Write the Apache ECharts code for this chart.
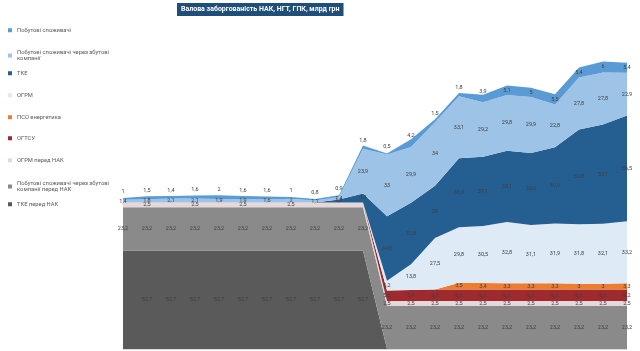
<!DOCTYPE html>
<html lang="uk">
<head>
<meta charset="UTF-8">
<title>Валова заборгованість</title>
<style>
  html, body { margin: 0; padding: 0; background: #fff; }
  #main { width: 640px; height: 351px; }
</style>
</head>
<body>
<div id="main"></div>
<script src="https://cdn.jsdelivr.net/npm/echarts@6/dist/echarts.min.js"></script>
<script>
// periods (no visible axis labels in the original)
var periods = ['1', '2', '3', '4', '5', '6', '7', '8', '9', '10', '11',
               '12', '13', '14', '15', '16', '17', '18', '19', '20', '21', '22'];

// stack from bottom to top, млрд грн
var tkeBeforeNak      = [52.7, 52.7, 52.7, 52.7, 52.7, 52.7, 52.7, 52.7, 52.7, 52.7, 52.7,
                         0, 0, 0, 0, 0, 0, 0, 0, 0, 0, 0];
var retailBeforeNak   = [23.2, 23.2, 23.2, 23.2, 23.2, 23.2, 23.2, 23.2, 23.2, 23.2, 23.2,
                         23.2, 23.2, 23.2, 23.2, 23.2, 23.2, 23.2, 23.2, 23.2, 23.2, 23.2];
var ogrmBeforeNak     = [2.5, 2.5, 2.5, 2.5, 2.5, 2.5, 2.5, 2.5, 2.5, 2.5, 2.5,
                         2.5, 2.5, 2.5, 2.5, 2.5, 2.5, 2.5, 2.5, 2.5, 2.5, 2.5];
var ogtsu             = [0, 0, 0, 0, 0, 0, 0, 0, 0, 0, 0,
                         5.6, 5.9, 6.2, 6.2, 6.2, 6.2, 6.2, 6.2, 6.2, 6.2, 6.2];
var psoEnergy         = [0, 0, 0, 0, 0, 0, 0, 0, 0, 0, 0,
                         0, 0, 0, 3.5, 3.4, 3.3, 3.3, 3.3, 3, 3, 3.3];
var ogrm              = [0, 0, 0, 0, 0, 0, 0, 0, 0, 0, 0,
                         5.2, 13.8, 27.5, 29.8, 30.5, 32.8, 31.1, 31.9, 31.8, 32.1, 33.2];
var tke               = [0, 0, 0, 0, 0, 0, 0, 0, 0, 1.6, 4.8,
                         34.6, 32.8, 28, 36.9, 37.1, 38.1, 38.6, 40.9, 50.8, 53.1, 56.5];
var retailSuppliers   = [1.4, 1.8, 2.1, 2.1, 1.9, 1.9, 1.6, 2, 1.1, 1.4, 23.9,
                         33, 29.9, 34, 33.1, 29.2, 29.8, 29.9, 22.8, 27.8, 27.8, 22.9];
var households        = [1, 1.5, 1.4, 1.6, 2, 1.6, 1.6, 1, 0.8, 0.9, 1.8,
                         0.5, 4.2, 1.5, 1.8, 3.9, 5.1, 5, 5.5, 5.4, 6, 5.4];

var layers = [
    {name: 'ТКЕ перед НАК', data: tkeBeforeNak, color: '#5a5a5a'},
    {name: 'Побутові споживачі через збутові компанії перед НАК', data: retailBeforeNak, color: '#8a8a8a'},
    {name: 'ОГРМ перед НАК', data: ogrmBeforeNak, color: '#e6d8d8'},
    {name: 'ОГТСУ', data: ogtsu, color: '#9e2a2f'},
    {name: 'ПСО енергетика', data: psoEnergy, color: '#ed7d31'},
    {name: 'ОГРМ', data: ogrm, color: '#deebf7'},
    {name: 'ТКЕ', data: tke, color: '#255e91'},
    {name: 'Побутові споживачі через збутові компанії', data: retailSuppliers, color: '#9dc3e6'},
    {name: 'Побутові споживачі', data: households, color: '#5b9bd5'}
];

// labels Excel did not draw
var hiddenLabels = {
    'ТКЕ перед НАК': [0],
    'ОГРМ перед НАК': [0, 2, 4, 6, 8, 9, 10]
};

var legendWrap = {
    'Побутові споживачі через збутові компанії': 'Побутові споживачі через збутові\nкомпанії',
    'Побутові споживачі через збутові компанії перед НАК': 'Побутові споживачі через збутові\nкомпанії перед НАК'
};
var legendTops = [27, 49, 70, 92, 114, 135, 157, 180, 201];

var font = 'Roboto, "Liberation Sans", sans-serif';

function fmt(v) {
    return String(v).replace('.', ',');
}

// label points in the middle of every band
var labelItems = [];
var base = periods.map(function () { return 0; });
layers.forEach(function (layer) {
    var hide = hiddenLabels[layer.name] || [];
    layer.data.forEach(function (v, i) {
        if (v > 0 && hide.indexOf(i) < 0) {
            var shift = 0;
            if (layer.name === 'Побутові споживачі' && v < 4.5) shift = -7;
            labelItems.push({value: [i, base[i] + v / 2], text: fmt(v), shift: shift});
        }
        base[i] += v;
    });
});

var series = layers.map(function (layer) {
    return {
        name: layer.name,
        type: 'line',
        stack: 'total',
        data: layer.data,
        symbol: 'none',
        color: layer.color,
        lineStyle: {width: 0},
        areaStyle: {color: layer.color, opacity: 1}
    };
});

series.push({
    type: 'custom',
    z: 10,
    silent: true,
    clip: false,
    data: labelItems,
    renderItem: function (params, api) {
        var p = api.coord([api.value(0), api.value(1)]);
        var item = labelItems[params.dataIndex];
        return {
            type: 'text',
            x: p[0],
            y: p[1] + item.shift,
            style: {
                text: item.text,
                fill: '#404040',
                font: '5.5px ' + font,
                align: 'center',
                verticalAlign: 'middle'
            }
        };
    }
});

var legends = layers.slice().reverse().map(function (layer, k) {
    return {
        data: [layer.name],
        orient: 'vertical',
        left: 8,
        top: legendTops[k],
        padding: 0,
        icon: 'rect',
        itemWidth: 4,
        itemHeight: 4,
        selectedMode: false,
        formatter: function (name) { return legendWrap[name] || name; },
        textStyle: {
            color: '#595959',
            fontSize: 5.8,
            lineHeight: 6.5,
            fontFamily: font
        }
    };
});

var myChart = echarts.init(document.getElementById('main'));
var option = {
    animation: false,
    title: {
        text: 'Валова заборгованість НАК, НГТ, ГПК, млрд грн',
        left: 177,
        top: 3,
        padding: [3, 4],
        backgroundColor: '#1f4e79',
        textStyle: {
            color: '#ffffff',
            fontSize: 7,
            fontWeight: 'bold',
            fontFamily: font
        }
    },
    legend: legends,
    grid: {left: 123, right: 13, top: 50, bottom: 2},
    xAxis: {
        type: 'category',
        data: periods,
        boundaryGap: false,
        axisLine: {lineStyle: {color: '#d9d9d9'}},
        axisTick: {show: false},
        axisLabel: {show: false}
    },
    yAxis: {
        type: 'value',
        min: 0,
        max: 160,
        show: false
    },
    series: series
};
myChart.setOption(option);
</script>
</body>
</html>
